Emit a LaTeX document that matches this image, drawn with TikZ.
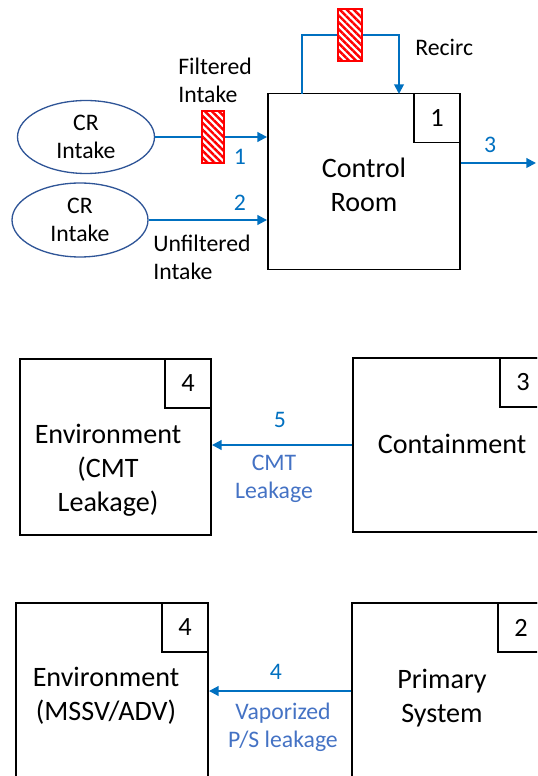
\documentclass[tikz,border=0pt]{standalone}
\usepackage{fontspec}
\setmainfont{Carlito}
\usetikzlibrary{shapes.geometric,arrows.meta,patterns.meta}
\definecolor{flowblue}{HTML}{0070C0}
\definecolor{leakblue}{HTML}{4472C4}
\definecolor{srcblue}{HTML}{2F5597}

\begin{document}
\begin{tikzpicture}[x=0.02cm,y=-0.02cm,
  box/.style={draw,line width=1.1pt,inner sep=0,minimum width=3.84cm,minimum height=3.52cm},
  numbox/.style={draw,line width=1.1pt,inner sep=0,minimum width=0.92cm,minimum height=0.98cm,anchor=north east,font=\fontsize{15}{18}\selectfont},
  title/.style={inner sep=0,align=center,font=\fontsize{16}{19.3}\selectfont},
  src/.style={ellipse,draw=srcblue,line width=0.75pt,inner sep=0,align=center,font=\fontsize{13.5}{16}\selectfont},
  filt/.style={draw=red,line width=0.6pt,inner sep=0,minimum width=0.44cm,minimum height=1.04cm,
    pattern={Lines[angle=-45,distance=2.8pt,line width=1.4pt]},pattern color=red},
  flow/.style={draw=flowblue,line width=1.1pt,-{Triangle[length=5.5pt,width=5.5pt]}},
  tag/.style={inner sep=0,text=flowblue,font=\fontsize{13.5}{16}\selectfont},
  leak/.style={inner sep=0,align=center,text=leakblue,font=\fontsize{13.5}{16}\selectfont},
  note/.style={inner sep=0,align=left,anchor=west,font=\fontsize{13.5}{16}\selectfont}]
\clip (0,0) rectangle (537,776);

% control room
\node[box] (CR) at (364,181.5) {};
\node[numbox] (CRn) at (CR.north east) {1};
\node[title] (CRt) at (364,185) {Control\\Room};
\node[src,minimum width=2.74cm,minimum height=1.46cm] (in1) at (86,137) {CR\\Intake};
\node[src,minimum width=2.72cm,minimum height=1.48cm] (in2) at (80,220) {CR\\Intake};
\node[filt] (f1) at (213,137) {};
\node[filt,minimum width=0.48cm] (f2) at (350,35) {};
\coordinate (rcout) at (302,94);
\coordinate (rcin) at (399,94);
\coordinate (out3) at (536,163);

\draw[flowblue,line width=1.1pt] (in1.east) -- (f1.west);
\draw[flow] (f1.east) -- (f1.east -| CR.west);
\draw[flow] (in2.east) -- (in2.east -| CR.west);
\draw[flowblue,line width=1.1pt] (rcout) |- (f2.west);
\draw[flow] (f2.east) -| (rcin);
\draw[flow] (out3 -| CR.east) -- (out3);

\node[note] (fl) at (178,80) {Filtered\\Intake};
\node[note] (ufl) at (153,257) {Unfiltered\\Intake};
\node[note] (rc) at (415,47) {Recirc};
\node[tag] (l1) at (240,157) {1};
\node[tag] (l2) at (240,203) {2};
\node[tag] (l3) at (490,145) {3};

% containment leakage
\node[box,minimum width=3.82cm] (env1) at (115.5,447) {};
\node[numbox] (env1n) at (env1.north east) {4};
\node[title] (env1t) at (108,470) {Environment\\(CMT\\Leakage)};
\node[box,minimum width=3.86cm,minimum height=3.48cm] (cont) at (449.5,445) {};
\node[numbox] (contn) at (cont.north east) {3};
\node[title] (contt) at (452,444) {Containment};
\draw[flow] (cont.west) -- (cont.west -| env1.east);
\node[tag] (l5) at (280,420) {5};
\node[leak] (cmt) at (274,479) {CMT\\Leakage};

% primary system leakage
\node[box] (env2) at (112,691) {};
\node[numbox] (env2n) at (env2.north east) {4};
\node[title] (env2t) at (106,696) {Environment\\(MSSV/ADV)};
\node[box] (prim) at (448,691) {};
\node[numbox] (primn) at (prim.north east) {2};
\node[title] (primt) at (442,698) {Primary\\System};
\draw[flow] (prim.west) -- (prim.west -| env2.east);
\node[tag] (l4) at (276,672) {4};
\node[leak] (vap) at (283,727) {Vaporized\\P/S leakage};
\end{tikzpicture}
\end{document}
